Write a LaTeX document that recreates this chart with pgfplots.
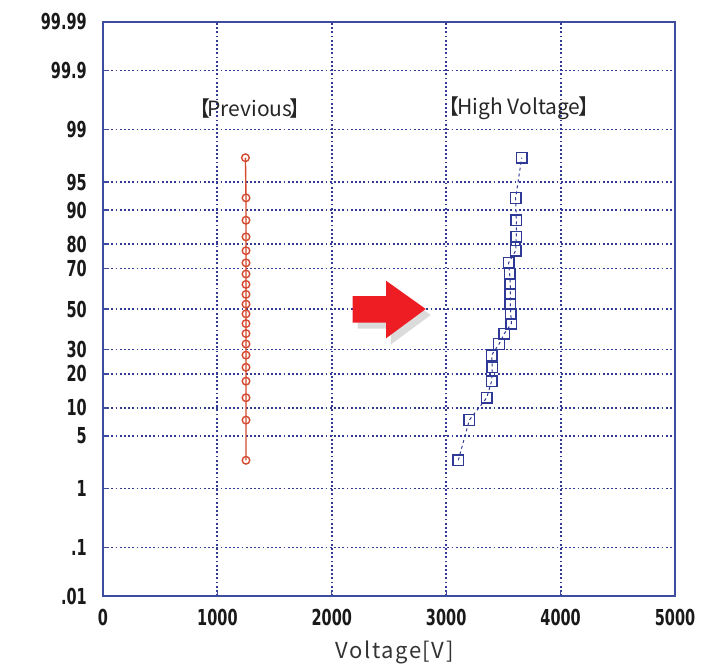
\documentclass[border=0pt]{standalone}
\usepackage{fontspec}
\usepackage{pgfplots}
\pgfplotsset{compat=1.18}
\usetikzlibrary{shadows}
\newfontfamily\tickfont[FakeStretch=0.66,BoldFont={DejaVu Sans Bold}]{DejaVu Sans}
\newfontfamily\jpfont{Noto Sans CJK JP}
\newfontfamily\xlfont[LetterSpace=7]{Noto Sans CJK JP}
\definecolor{frameblue}{HTML}{3D4CA0}
\definecolor{gridblue}{HTML}{323A94}
\definecolor{redline}{HTML}{D44A30}
\definecolor{bluemark}{HTML}{2F3A96}
\definecolor{arrowred}{HTML}{EE1D24}

% plotting positions z = Phi^-1((i-0.5)/20)
\pgfplotstableread{
x z
1250 -1.9600
1250 -1.4395
1250 -1.1503
1250 -0.9346
1250 -0.7554
1250 -0.5978
1250 -0.4538
1250 -0.3186
1250 -0.1891
1250 -0.0627
1250 0.0627
1250 0.1891
1250 0.3186
1250 0.4538
1250 0.5978
1250 0.7554
1250 0.9346
1250 1.1503
1250 1.4395
1245 1.9600
}\previous

\pgfplotstableread{
x z
3106 -1.9600
3202 -1.4395
3354 -1.1503
3397 -0.9346
3403 -0.7554
3397 -0.5978
3462 -0.4538
3508 -0.3186
3570 -0.1891
3565 -0.0627
3560 0.0627
3560 0.1891
3560 0.3186
3555 0.4538
3545 0.5978
3607 0.7554
3613 0.9346
3613 1.1503
3607 1.4395
3660 1.9600
}\highvolt

\begin{document}
\begin{tikzpicture}
\path[use as bounding box] (-103bp,-68bp) rectangle (603bp,596bp);
\begin{axis}[
  at={(0,0)}, anchor=south west,
  scale only axis, width=572bp, height=574bp,
  xmin=0, xmax=5000, ymin=-3.719, ymax=3.719,
  xtick={0,1000,2000,3000,4000,5000},
  xticklabels={0,1000,2000,3000,4000,5000},
  ytick={-3.719,-3.090,-2.326,-1.645,-1.2816,-0.8416,-0.5244,0,0.5244,0.8416,1.2816,1.645,2.326,3.090,3.719},
  yticklabels={.01,.1,1,5,10,20,30,50,70,80,90,95,99,99.9,99.99},
  xtick pos=left, ytick pos=left,
  /pgf/number format/assume math mode=true,
  ticklabel style={font=\tickfont\bfseries\fontsize{22bp}{26bp}\selectfont, inner sep=0pt, text=black!90},
  xticklabel style={anchor=center, yshift=-21.5bp},
  yticklabel style={anchor=east, xshift=-16bp},
  axis line style={frameblue, line width=1.8bp},
  major tick length=6bp,
  tick style={frameblue, line width=1.3bp, solid},
  grid=major,
  major grid style={gridblue, line width=1.9bp, dash pattern=on 1.8bp off 2.4bp},
  xlabel={\xlfont\fontsize{22bp}{26bp}\selectfont Voltage[V]},
  xlabel style={at={(axis description cs:0.51,0)}, anchor=center, yshift=-56bp, text=black!80, inner sep=0pt},
  clip=false,
]
\addplot[redline, line width=1.4bp, mark=o, mark size=3.8bp, mark options={line width=1.4bp}] table[x=x, y=z] {\previous};
\addplot[bluemark, line width=1bp, dash pattern=on 3bp off 3bp, mark=square, mark size=5.3bp, mark options={solid, line width=1.4bp}] table[x=x, y=z] {\highvolt};

\fill[arrowred, drop shadow={shadow xshift=5bp, shadow yshift=-6bp, fill=black, opacity=0.14}]
  (axis cs:2183,0.168) -- (axis cs:2474,0.168) -- (axis cs:2474,0.367) -- (axis cs:2821,0) --
  (axis cs:2474,-0.380) -- (axis cs:2474,-0.177) -- (axis cs:2183,-0.177) -- cycle;

\node[font=\jpfont\fontsize{21bp}{24bp}\selectfont, text=black!85, inner sep=0pt] at (axis cs:1285,2.604) {【\kern-0.12em Previous\kern-0.12em 】};
\node[font=\jpfont\fontsize{21bp}{24bp}\selectfont, text=black!85, inner sep=0pt] at (axis cs:3636,2.604) {【\kern-0.12em High Voltage\kern-0.12em 】};
\end{axis}
\end{tikzpicture}
\end{document}
